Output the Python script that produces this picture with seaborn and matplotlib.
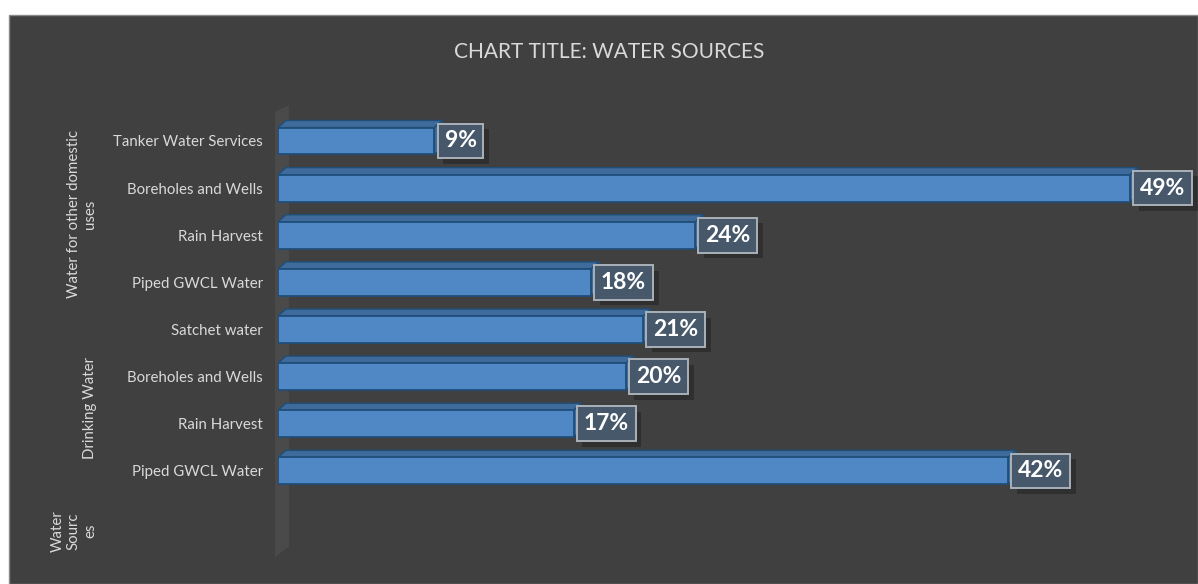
import matplotlib
matplotlib.use("Agg")
import matplotlib.pyplot as plt
from matplotlib.patches import Rectangle, Polygon
from matplotlib import patheffects as pe
import seaborn as sns
import pandas as pd

# ---- data -------------------------------------------------------------
groups = ["Water for other domestic uses"] * 4 + ["Drinking Water"] * 4
sources = [
    "Tanker Water Services", "Boreholes and Wells", "Rain Harvest", "Piped GWCL Water",
    "Satchet water", "Boreholes and Wells", "Rain Harvest", "Piped GWCL Water",
]
shares = [9, 49, 24, 18, 21, 20, 17, 42]
title = "CHART TITLE: WATER SOURCES"
group_titles = ["Water for other domestic\nuses", "Drinking Water", "Water\nSourc\nes"]

df = pd.DataFrame({"group": groups, "source": sources, "share": shares})
df["key"] = df["group"] + " | " + df["source"]

# ---- style --------------------------------------------------------------
sns.set_theme(style="white")
plt.rcParams["font.family"] = ["Lato", "DejaVu Sans"]

PANEL = "#404040"
FRONT = "#4f88c5"
TOP = "#3e6b9b"
SIDE = "#3c6ca2"
EDGE = "#1f4e79"
TXT = "#d9d9d9"

W, H = 1198, 584
fig = plt.figure(figsize=(W / 100, H / 100), dpi=100, facecolor="white")
fig.patches.append(Rectangle((9 / W, 0), 1 - 9 / W, 1 - 15 / H, transform=fig.transFigure,
                             facecolor=PANEL, edgecolor="#8a8a8a", lw=1.0, zorder=-5))

ax_l, ax_t, ax_b = 278, 100, 559
ax = fig.add_axes([ax_l / W, 1 - ax_b / H, (1182 - ax_l) / W, (ax_b - ax_t) / H])
ax.set_facecolor("none")

sns.barplot(data=df, x="share", y="key", order=list(df["key"]), orient="h",
            color=FRONT, saturation=1, width=0.57, edgecolor=EDGE, linewidth=1.3,
            ax=ax, zorder=3)

ax.set_xlim(0, 52)
ax.set_ylim(8.87, -0.87)
for s in ax.spines.values():
    s.set_visible(False)
ax.set_xticks([])
ax.set_xlabel("")
ax.set_ylabel("")
ax.set_yticks(range(len(sources)))
ax.set_yticklabels(sources, color=TXT, fontsize=10.8)
ax.tick_params(axis="y", length=0, pad=11)

# side wall of the 3-D category axis
ax.add_patch(Polygon([(-0.17, -0.62), (0.63, -0.76), (0.63, 8.6), (-0.17, 8.83)],
                     closed=True, facecolor="#4a4a4a", edgecolor="none",
                     clip_on=False, zorder=1))

# depth of the bar prisms in data units
dx, dy = 0.46, 0.15
bars = list(ax.patches)[:len(shares)]
for p, v in zip(bars, shares):
    x0, y0, w, h = p.get_x(), p.get_y(), p.get_width(), p.get_height()
    ax.add_patch(Polygon([(x0, y0), (x0 + w, y0), (x0 + w + dx, y0 - dy), (x0 + dx, y0 - dy)],
                         closed=True, facecolor=TOP, edgecolor=EDGE, lw=1.0, zorder=2))
    ax.add_patch(Polygon([(x0 + w, y0), (x0 + w + dx, y0 - dy), (x0 + w + dx, y0 + h - dy),
                          (x0 + w, y0 + h)],
                         closed=True, facecolor=SIDE, edgecolor=EDGE, lw=1.0, zorder=2))
    t = ax.annotate(f"{v}%", xy=(v + dx, y0 + h / 2), xytext=(1.5, 0),
                    textcoords="offset points", ha="left", va="center",
                    fontsize=16.5, fontweight="bold", color="white", zorder=5,
                    annotation_clip=False,
                    bbox=dict(boxstyle="square,pad=0.3", fc="#47586a", ec="#aab1b8", lw=1.4))
    t.get_bbox_patch().set_path_effects([
        pe.SimplePatchShadow(offset=(4, -4), shadow_rgbFace="black", alpha=0.25),
        pe.Normal()])

# group labels of the multi-level category axis
for txt, yc in zip(group_titles, [214, 408, 531]):
    fig.text(97 / W, 1 - yc / H, txt, rotation=90, ha="right", va="center",
             multialignment="center", color=TXT, fontsize=10.8)

fig.text(609 / W, 1 - 52 / H, title, ha="center", va="center", color=TXT, fontsize=15)

fig.savefig("out.png", dpi=100, facecolor="white")
